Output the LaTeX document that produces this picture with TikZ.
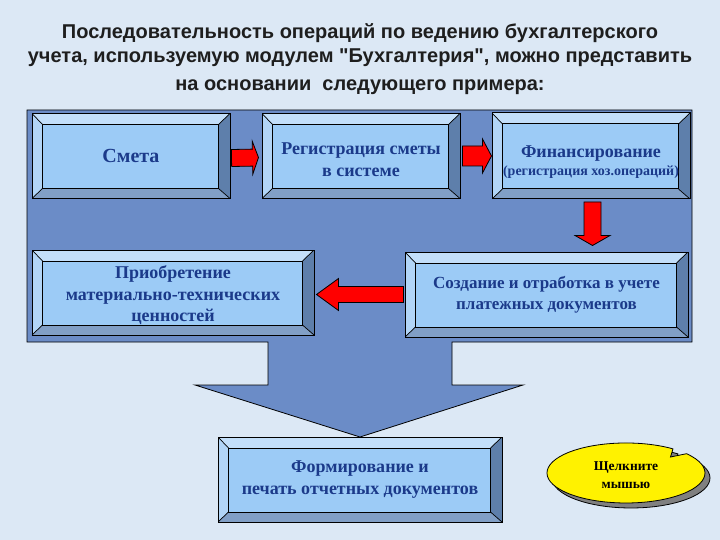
\documentclass[tikz,border=0pt]{standalone}
\usepackage{fontspec}
\setmainfont{Liberation Serif}
\newfontfamily\titlefont{Liberation Sans}
\usetikzlibrary{positioning,calc}

\definecolor{bgblue}{HTML}{DCE8F5}
\definecolor{panelblue}{HTML}{6B8CC7}
\definecolor{faceblue}{HTML}{9CCBF6}
\definecolor{bevtop}{HTML}{C3DFFA}
\definecolor{bevleft}{HTML}{B2D5F7}
\definecolor{bevright}{HTML}{5E7FAB}
\definecolor{bevbottom}{HTML}{819FC6}
\definecolor{navytext}{HTML}{1B3A8A}
\definecolor{titlegray}{HTML}{1E1E1E}

% block arrow: tail, tip, shaft half width, head half width, head length
\newcommand{\blockarrow}[5]{%
    \coordinate (hb) at ($(#2)!#5!(#1)$);
    \draw[redarrow]
        ($(#1)!#3!90:(#2)$) -- ($(hb)!#3!90:(#2)$) -- ($(hb)!#4!90:(#2)$)
        -- (#2) -- ($(hb)!#4!-90:(#2)$) -- ($(hb)!#3!-90:(#2)$)
        -- ($(#1)!#3!-90:(#2)$) -- cycle;
}

\begin{document}
\begin{tikzpicture}[
        x=1pt, y=-1pt,
        framebox/.style={
            rectangle,
            draw=black,
            line width=1pt,
            fill=faceblue,
            inner sep=0pt,
            align=center,
            text=navytext,
            font=\bfseries\fontsize{18}{21.5}\selectfont,
            path picture={
                \coordinate (nw) at (path picture bounding box.north west);
                \coordinate (ne) at (path picture bounding box.north east);
                \coordinate (sw) at (path picture bounding box.south west);
                \coordinate (se) at (path picture bounding box.south east);
                \coordinate (inw) at ([xshift=10.5pt,yshift=-11pt]nw);
                \coordinate (ine) at ([xshift=-11.5pt,yshift=-11pt]ne);
                \coordinate (isw) at ([xshift=10.5pt,yshift=10pt]sw);
                \coordinate (ise) at ([xshift=-11.5pt,yshift=10pt]se);
                \fill[bevtop] (nw) -- (ne) -- (ine) -- (inw) -- cycle;
                \fill[bevleft] (nw) -- (inw) -- (isw) -- (sw) -- cycle;
                \fill[bevright] (ne) -- (se) -- (ise) -- (ine) -- cycle;
                \fill[bevbottom] (sw) -- (isw) -- (ise) -- (se) -- cycle;
                \draw[line width=1pt] (inw) rectangle (ise);
                \draw[line width=0.7pt] (nw) -- (inw) (ne) -- (ine)
                    (sw) -- (isw) (se) -- (ise);
            }
        },
        redarrow/.style={
            draw=black,
            line width=0.8pt,
            fill=red
        }
    ]

    % page and margins
    \useasboundingbox (0,0) rectangle (720,540);
    \fill[bgblue] (0,0) rectangle (720,540);

    % title
    \node[align=center, text=titlegray,
          font=\titlefont\bfseries\fontsize{20}{24}\selectfont] (title) at (360,59)
        {Последовательность операций по ведению бухгалтерского\\
         учета, используемую модулем "Бухгалтерия", можно представить\\[4pt]
         на основании\ \ следующего примера:};

    % panel with the down arrow
    \draw[fill=panelblue, line width=0.8pt]
        (27,110) -- (692,110) -- (692,342) -- (452,342) -- (452,385)
        -- (523,385) -- (360,437) -- (195,385) -- (268,385)
        -- (268,342) -- (27,342) -- cycle;

    % boxes
    \node[framebox, minimum width=198pt, minimum height=85pt,
          font=\bfseries\fontsize{20}{24}\selectfont] (smeta) at (131,156)
        {Смета};

    \node[framebox, minimum width=198pt, minimum height=85pt, right=31pt of smeta] (reg)
        {\rule{0pt}{19pt}Регистрация сметы\\в системе};

    \node[framebox, minimum width=198pt, minimum height=86pt, right=31pt of reg,
          font=\bfseries\fontsize{18}{18.5}\selectfont] (fin)
        {\rule{0pt}{24pt}Финансирование\\{\fontsize{14}{18.5}\selectfont(регистрация хоз.операций)}};

    \node[framebox, minimum width=283pt, minimum height=85pt,
          font=\bfseries\fontsize{17}{21.5}\selectfont] (create) at (546.5,294.5)
        {Создание и отработка в учете\\платежных документов};

    \node[framebox, minimum width=282pt, minimum height=85pt] (buy) at (173,292.5)
        {\rule{0pt}{19pt}Приобретение\\материально-технических\\ценностей};

    \node[framebox, minimum width=284pt, minimum height=85pt] (report) at (360,479.5)
        {Формирование и\\печать отчетных документов};

    % red arrows
    \coordinate (a1s) at ([xshift=1pt,yshift=-2pt]smeta.east);
    \coordinate (a1e) at ([xshift=-3pt,yshift=-1.5pt]reg.west);
    \blockarrow{a1s}{a1e}{8.5pt}{16.5pt}{6pt}

    \coordinate (a2s) at ([xshift=2pt]reg.east);
    \coordinate (a2e) at (fin.west);
    \blockarrow{a2s}{a2e}{10pt}{17pt}{9pt}

    \coordinate (a3s) at ([xshift=1.5pt,yshift=-2.5pt]fin.south);
    \coordinate (a3e) at ([xshift=1.5pt,yshift=6pt]fin.south |- create.north);
    \blockarrow{a3s}{a3e}{8.5pt}{17.5pt}{10pt}

    \coordinate (a4s) at ([xshift=-1pt]create.west);
    \coordinate (a4e) at ([xshift=2pt]buy.east |- create.west);
    \blockarrow{a4s}{a4e}{8pt}{16pt}{22pt}

    % callout
    \foreach \dx/\col in {5/gray, 0/yellow}{
        \draw[fill=\col, draw=black, line width=0.8pt, shift={(\dx,\dx)}]
            (686.5,453.7) arc[start angle=-40, end angle=306.5,
                              x radius=79, y radius=30]
            -- (670.5,457) -- cycle;
    }
    \node[align=center, font=\bfseries\fontsize{13.5}{18}\selectfont] (click) at (626,475)
        {Щелкните\\мышью};

\end{tikzpicture}
\end{document}
